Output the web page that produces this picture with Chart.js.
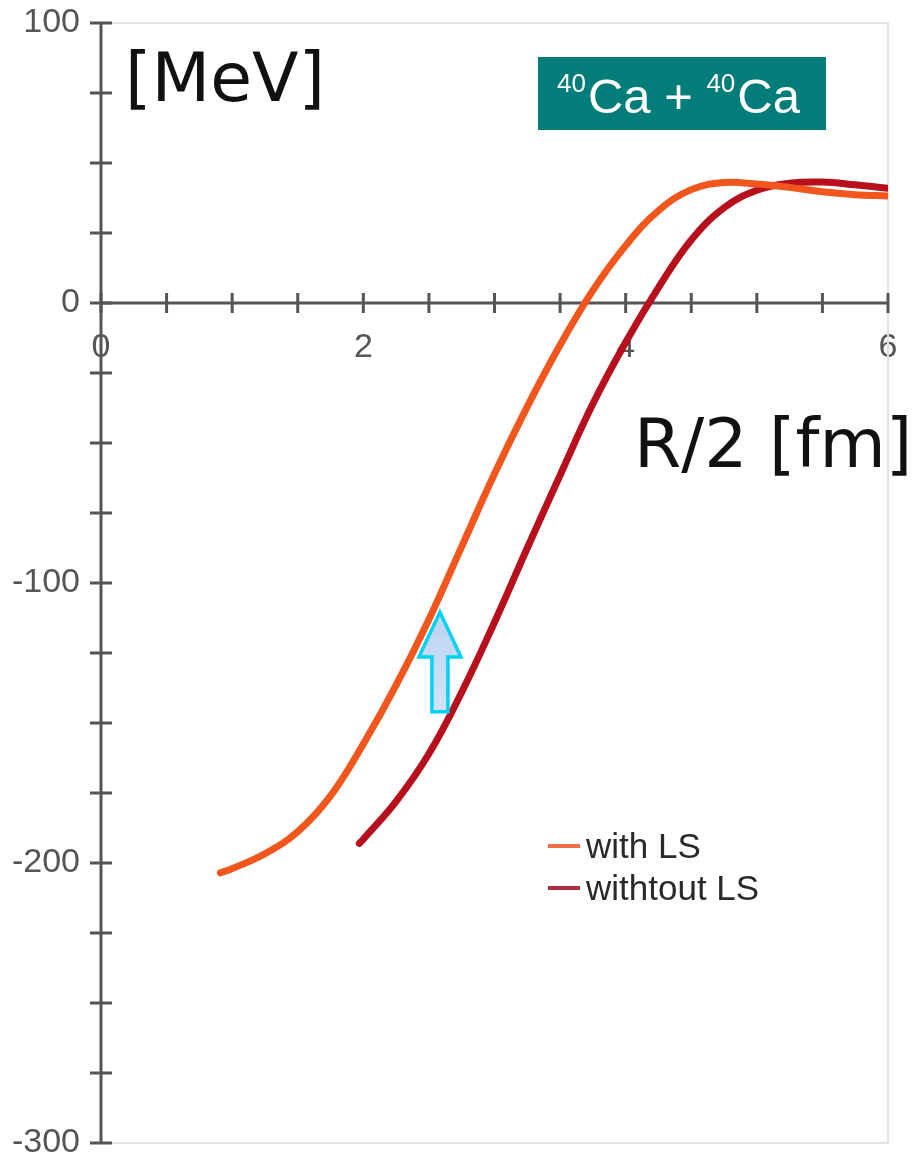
<!DOCTYPE html>
<html>
<head>
<meta charset="utf-8">
<script src="https://cdn.jsdelivr.net/npm/chart.js@4/dist/chart.umd.min.js"></script>
<style>
  html, body { margin: 0; padding: 0; background: #ffffff; }
  #wrap { width: 920px; height: 1156px; }
</style>
</head>
<body>
<div id="wrap"><canvas id="c" width="920" height="1156"></canvas></div>
<script>
// ---- data ----
const withLS_R = [0.91, 1.0, 1.25, 1.5, 1.75, 2.0, 2.25, 2.5, 2.75, 3.0, 3.25, 3.5, 3.75, 4.0, 4.25, 4.5, 4.75, 5.0, 5.25, 5.5, 5.75, 6.0];
const withLS_V = [-203.5, -202, -196.7, -188.8, -176, -157.5, -136.5, -113, -87, -61, -37, -15, 4.5, 20.5, 33, 40.5, 43, 42.5, 41.3, 39.7, 38.7, 38.2];

const withoutLS_R = [1.97, 2.0, 2.25, 2.5, 2.75, 3.0, 3.25, 3.5, 3.75, 4.0, 4.25, 4.5, 4.75, 5.0, 5.25, 5.5, 5.75, 6.0];
const withoutLS_V = [-193, -191.5, -178, -161, -139, -114, -87.5, -61.5, -36, -14, 5.5, 22.5, 34, 40.3, 42.8, 43.2, 42.2, 41];

const seriesLabels = ['with LS', 'withtout LS'];
const xTickLabelValues = [0, 2, 4, 6];
const yTickLabelValues = [100, 0, -100, -200, -300];
const yUnitLabel = '[MeV]';
const xUnitLabel = 'R/2 [fm]';
const reactionLabel = [['40', 'Ca'], ['40', 'Ca']];
// arrow annotation (data coordinates): tip and base
const arrowR = [2.584];
const arrowV = [-110.4, -146];

const COL_WITH = '#f1561d';
const COL_WITHOUT = '#b80f1d';

const toPts = (xs, ys) => xs.map((x, i) => ({ x: x, y: ys[i] }));

const decorPlugin = {
  id: 'decor',
  beforeDatasetsDraw(chart) {
    const ctx = chart.ctx;
    const xs = chart.scales.x, ys = chart.scales.y;
    const a = chart.chartArea;
    ctx.save();
    // light frame
    ctx.strokeStyle = '#e2e2e2';
    ctx.lineWidth = 2;
    ctx.beginPath();
    ctx.moveTo(a.left, a.top); ctx.lineTo(a.right, a.top);
    ctx.lineTo(a.right, a.bottom); ctx.lineTo(a.left, a.bottom);
    ctx.stroke();
    // axes crossing at zero
    const x0 = xs.getPixelForValue(0);
    const y0 = ys.getPixelForValue(0);
    ctx.strokeStyle = '#555555';
    ctx.lineWidth = 3;
    ctx.beginPath();
    ctx.moveTo(x0, a.top); ctx.lineTo(x0, a.bottom);
    ctx.moveTo(a.left, y0); ctx.lineTo(a.right, y0);
    ctx.stroke();
    // crossing tick marks
    ctx.lineWidth = 3;
    ctx.beginPath();
    ys.ticks.forEach(t => {
      const p = ys.getPixelForValue(t.value);
      ctx.moveTo(x0 - 11, p); ctx.lineTo(x0 + 11, p);
    });
    xs.ticks.forEach(t => {
      const p = xs.getPixelForValue(t.value);
      ctx.moveTo(p, y0 - 10); ctx.lineTo(p, y0 + 10);
    });
    ctx.stroke();
    ctx.restore();
  },
  afterDatasetsDraw(chart) {
    const ctx = chart.ctx;
    const xs = chart.scales.x, ys = chart.scales.y;
    ctx.save();
    // arrow
    const ax = xs.getPixelForValue(arrowR[0]);
    const tipY = ys.getPixelForValue(arrowV[0]);
    const baseY = ys.getPixelForValue(arrowV[1]);
    const headH = 45, headW = 21, shaftW = 8;
    ctx.beginPath();
    ctx.moveTo(ax, tipY);
    ctx.lineTo(ax + headW, tipY + headH);
    ctx.lineTo(ax + shaftW, tipY + headH);
    ctx.lineTo(ax + shaftW, baseY);
    ctx.lineTo(ax - shaftW, baseY);
    ctx.lineTo(ax - shaftW, tipY + headH);
    ctx.lineTo(ax - headW, tipY + headH);
    ctx.closePath();
    const g = ctx.createLinearGradient(0, tipY, 0, baseY);
    g.addColorStop(0, '#bcd4f2');
    g.addColorStop(1, '#d2e2f7');
    ctx.fillStyle = g;
    ctx.fill();
    ctx.strokeStyle = '#00d2f4';
    ctx.lineWidth = 3.5;
    ctx.lineJoin = 'miter';
    ctx.stroke();

    // unit labels
    ctx.fillStyle = '#111111';
    ctx.textBaseline = 'alphabetic';
    ctx.textAlign = 'left';
    ctx.font = '68px "DejaVu Sans"';
    ctx.fillText(yUnitLabel, 125, 101);
    ctx.fillText(xUnitLabel, 634, 467);

    // reaction box
    ctx.fillStyle = '#027d79';
    ctx.fillRect(538, 57, 288, 73);
    ctx.fillStyle = '#ffffff';
    let cx = 557;
    const supFont = '26px "Liberation Sans"';
    const mainFont = '49px "Liberation Sans"';
    reactionLabel.forEach((part, i) => {
      ctx.font = supFont;
      ctx.fillText(part[0], cx, 92);
      cx += ctx.measureText(part[0]).width + 2;
      ctx.font = mainFont;
      ctx.fillText(part[1], cx, 113);
      cx += ctx.measureText(part[1]).width;
      if (i === 0) {
        const plus = ' + ';
        ctx.fillText(plus, cx, 113);
        cx += ctx.measureText(plus).width;
      }
    });

    // legend
    const legendCols = ['#ef6f45', '#b52a3c'];
    const ly = [846, 888];
    ctx.font = '35px "Liberation Sans"';
    seriesLabels.forEach((lab, i) => {
      ctx.strokeStyle = legendCols[i];
      ctx.lineWidth = 4;
      ctx.beginPath();
      ctx.moveTo(548, ly[i]); ctx.lineTo(580, ly[i]);
      ctx.stroke();
      ctx.fillStyle = '#2a2a2a';
      ctx.fillText(lab, 586, ly[i] + 12);
    });
    ctx.restore();
  }
};

new Chart(document.getElementById('c'), {
  type: 'line',
  data: {
    datasets: [
      {
        label: seriesLabels[0],
        data: toPts(withLS_R, withLS_V),
        borderColor: COL_WITH,
        borderWidth: 7,
        borderCapStyle: 'round',
        pointRadius: 0,
        tension: 0.4,
        fill: false
      },
      {
        label: seriesLabels[1],
        data: toPts(withoutLS_R, withoutLS_V),
        borderColor: COL_WITHOUT,
        borderWidth: 7,
        borderCapStyle: 'round',
        pointRadius: 0,
        tension: 0.4,
        fill: false
      }
    ]
  },
  options: {
    responsive: false,
    animation: false,
    events: [],
    layout: { padding: { left: 0, top: 23, right: 32, bottom: 13 } },
    plugins: { legend: { display: false }, tooltip: { enabled: false } },
    scales: {
      x: {
        type: 'linear',
        min: 0, max: 6,
        position: { y: 0 },
        border: { display: false },
        grid: { display: false, drawTicks: false },
        afterFit: s => { s.paddingLeft = 0; s.paddingRight = 0; s.paddingTop = 0; s.paddingBottom = 0; s.height = 0; },
        ticks: {
          stepSize: 0.5,
          autoSkip: false,
          maxRotation: 0,
          padding: 24,
          color: '#555555',
          font: { family: 'Liberation Sans', size: 34 },
          callback: v => xTickLabelValues.includes(v) ? String(v) : ''
        }
      },
      y: {
        type: 'linear',
        min: -300, max: 100,
        position: 'left',
        border: { display: false },
        grid: { display: false, drawTicks: false },
        afterFit: s => { s.width = 101; s.paddingTop = 0; s.paddingBottom = 0; s.paddingLeft = 0; s.paddingRight = 0; },
        ticks: {
          stepSize: 25,
          autoSkip: false,
          padding: 21,
          color: '#555555',
          font: { family: 'Liberation Sans', size: 34 },
          callback: v => yTickLabelValues.includes(v) ? String(v) : ''
        }
      }
    }
  },
  plugins: [decorPlugin]
});
</script>
</body>
</html>
